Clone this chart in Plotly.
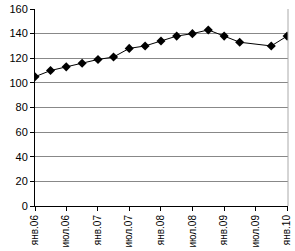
import plotly.graph_objects as go

dates = ["2006-01-01", "2006-04-01", "2006-07-01", "2006-10-01",
         "2007-01-01", "2007-04-01", "2007-07-01", "2007-10-01",
         "2008-01-01", "2008-04-01", "2008-07-01", "2008-10-01",
         "2009-01-01", "2009-04-01", "2009-10-01", "2010-01-01"]
values = [105, 110, 113, 116, 119, 121, 128, 130,
          134, 138, 140, 143, 138, 133, 130, 138]

tick_dates = ["2006-01-01", "2006-07-01", "2007-01-01", "2007-07-01",
              "2008-01-01", "2008-07-01", "2009-01-01", "2009-07-01", "2010-01-01"]
tick_text = ["янв.06", "июл.06", "янв.07", "июл.07",
             "янв.08", "июл.08", "янв.09", "июл.09", "янв.10"]

fig = go.Figure()
fig.add_trace(go.Scatter(
    x=dates, y=values, mode="lines+markers",
    line=dict(color="black", width=1),
    marker=dict(symbol="diamond", size=7, color="black"),
    showlegend=False,
))

fig.update_layout(
    width=295, height=251,
    margin=dict(l=35, r=3, t=6, b=45),
    paper_bgcolor="white", plot_bgcolor="white",
    font=dict(family="Liberation Sans, Arial, sans-serif", size=10, color="black"),
    xaxis=dict(
        type="date",
        range=["2006-01-01", "2010-01-06"],
        tickmode="array", tickvals=tick_dates, ticktext=tick_text,
        tickangle=-90, showgrid=False, showline=True, linecolor="black",
        linewidth=1, ticks="outside", ticklen=4, tickcolor="black",
        tickfont=dict(size=10), zeroline=False, ticklabeloverflow="allow",
    ),
    yaxis=dict(
        range=[0, 160], dtick=20, showgrid=True, gridcolor="#888888",
        gridwidth=1, showline=True, linecolor="black", linewidth=1,
        ticks="outside", ticklen=4, tickcolor="black",
        tickfont=dict(size=11), zeroline=False, ticklabeloverflow="allow",
    ),
    shapes=[dict(type="line", xref="paper", yref="paper", x0=1, x1=1, y0=0, y1=1,
                 line=dict(color="#aaaaaa", width=1))],
)

fig.write_html("out.html")
